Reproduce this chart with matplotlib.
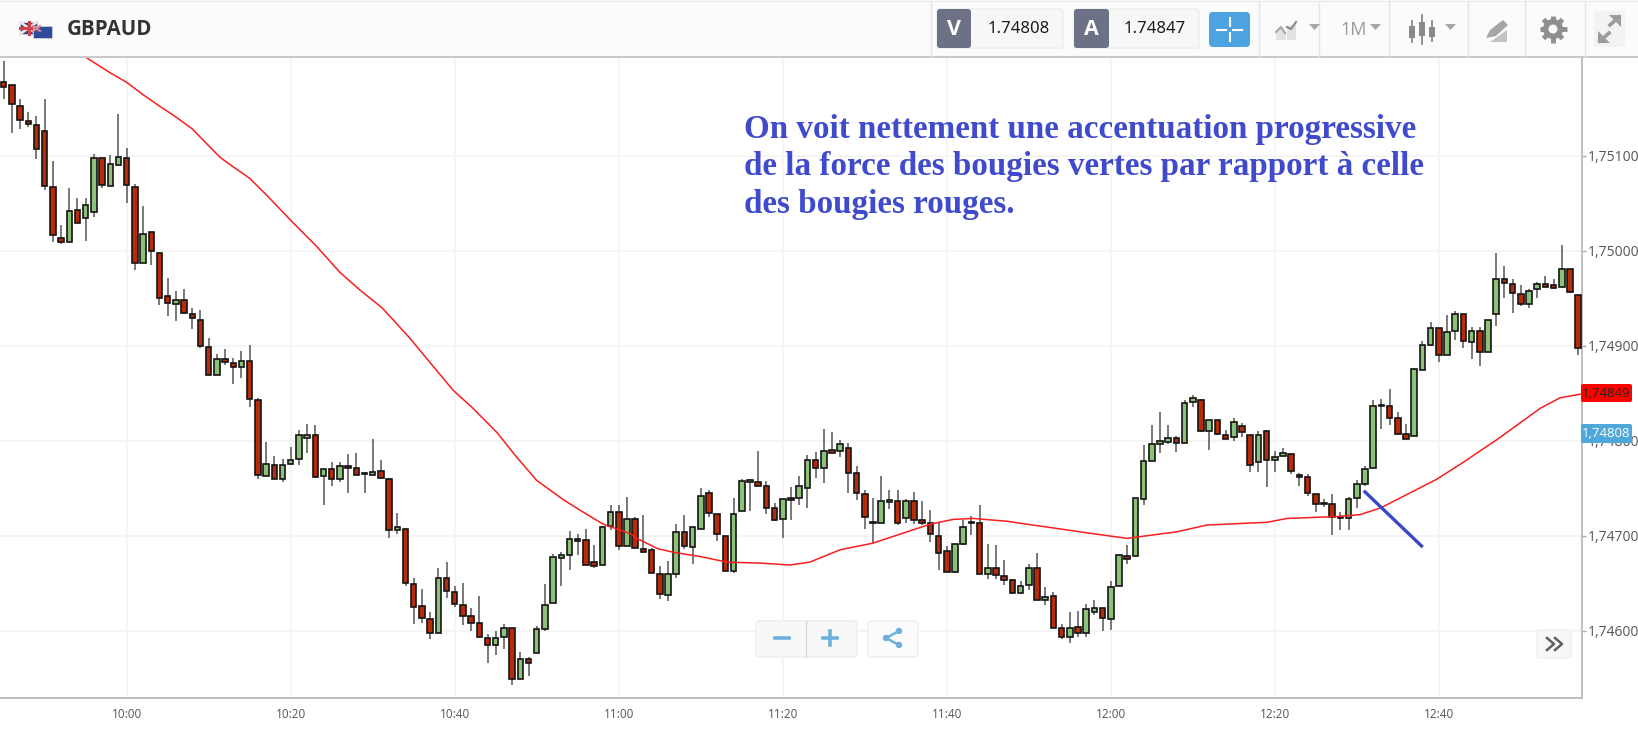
#! /usr/bin/python3

import numpy as np
from matplotlib import pyplot as plt
from matplotlib.patches import FancyBboxPatch, Rectangle, Polygon, Circle

plt.rcParams["font.family"] = ["Open Sans", "DejaVu Sans"]

# one candle per minute, minutes counted from 10:00
first_minute = -15

# prices are given in 1e-5 above 1.00000, 75100 means 1.75100
opens = [75177, 75174, 75152, 75136, 75132, 75126, 75067, 75013, 75009, 75043, 75034, 75041, 75097, 75068, 75090,
         75097, 75067, 74987, 75019, 74997, 74952, 74944, 74948, 74933, 74927, 74898, 74869, 74886, 74882, 74877,
         74884, 74843, 74763, 74774, 74760, 74775, 74781, 74803, 74806, 74763, 74770, 74759, 74773, 74771, 74765,
         74764, 74768, 74760, 74706, 74707, 74649, 74626, 74612, 74597, 74655, 74641, 74627, 74615, 74608, 74592,
         74585, 74593, 74603, 74549, 74570, 74576, 74602, 74629, 74676, 74680, 74696, 74695, 74672, 74669, 74710,
         74725, 74689, 74717, 74686, 74685, 74660, 74637, 74659, 74704, 74688, 74707, 74745, 74723, 74700, 74663,
         74726, 74756, 74756, 74752, 74729, 74717, 74739, 74739, 74750, 74780, 74771, 74790, 74789, 74792, 74766,
         74744, 74713, 74713, 74735, 74736, 74718, 74736, 74716, 74713, 74700, 74684, 74662, 74691, 74713, 74713,
         74660, 74666, 74657, 74653, 74639, 74648, 74666, 74632, 74636, 74603, 74593, 74604, 74597, 74619, 74624,
         74612, 74647, 74678, 74678, 74738, 74778, 74796, 74798, 74803, 74797, 74841, 74843, 74810, 74822, 74806,
         74804, 74815, 74806, 74777, 74810, 74780, 74784, 74786, 74764, 74762, 74744, 74733, 74733, 74718, 74718,
         74739, 74754, 74771, 74836, 74836, 74824, 74807, 74805, 74874, 74901, 74918, 74890, 74915, 74933, 74904,
         74915, 74893, 74933, 74970, 74965, 74954, 74944, 74959, 74965, 74964, 74962, 74981, 74953]
highs = [75199, 75174, 75159, 75146, 75142, 75160, 75094, 75027, 75066, 75055, 75055, 75102, 75097, 75101, 75144,
         75108, 75070, 75047, 75020, 74997, 74971, 74957, 74959, 74939, 74937, 74908, 74891, 74896, 74887, 74894,
         74901, 74845, 74798, 74784, 74781, 74793, 74811, 74817, 74816, 74770, 74777, 74777, 74786, 74787, 74767,
         74802, 74779, 74761, 74724, 74708, 74655, 74644, 74620, 74666, 74672, 74647, 74650, 74624, 74636, 74596,
         74600, 74607, 74603, 74577, 74572, 74605, 74649, 74681, 74683, 74705, 74702, 74707, 74690, 74710, 74732,
         74732, 74741, 74719, 74722, 74687, 74668, 74673, 74712, 74722, 74709, 74750, 74748, 74723, 74700, 74740,
         74760, 74760, 74789, 74757, 74734, 74738, 74751, 74763, 74785, 74788, 74812, 74809, 74801, 74797, 74773,
         74748, 74740, 74763, 74748, 74748, 74738, 74746, 74736, 74727, 74713, 74689, 74691, 74716, 74721, 74732,
         74691, 74690, 74674, 74654, 74652, 74670, 74682, 74646, 74641, 74607, 74619, 74621, 74628, 74632, 74624,
         74652, 74680, 74690, 74739, 74795, 74816, 74830, 74816, 74805, 74843, 74848, 74844, 74822, 74822, 74811,
         74824, 74818, 74806, 74810, 74810, 74789, 74792, 74787, 74766, 74765, 74744, 74738, 74744, 74725, 74741,
         74758, 74773, 74843, 74844, 74854, 74830, 74817, 74876, 74905, 74925, 74918, 74932, 74936, 74933, 74919,
         74919, 74927, 74997, 74984, 74970, 74964, 74960, 74967, 74973, 74970, 75006, 74981, 74953]
lows = [75160, 75124, 75128, 75130, 75096, 75064, 75009, 75007, 75009, 75029, 75010, 75035, 75066, 75068, 75089,
        75050, 74979, 74987, 74985, 74943, 74931, 74926, 74933, 74917, 74897, 74869, 74869, 74880, 74860, 74866,
        74835, 74760, 74763, 74759, 74756, 74774, 74774, 74787, 74761, 74732, 74752, 74756, 74745, 74764, 74745,
        74764, 74759, 74697, 74702, 74647, 74607, 74608, 74591, 74597, 74634, 74625, 74606, 74600, 74592, 74566,
        74574, 74581, 74543, 74549, 74552, 74576, 74599, 74629, 74647, 74664, 74680, 74669, 74666, 74669, 74706,
        74685, 74689, 74687, 74682, 74661, 74633, 74631, 74655, 74686, 74670, 74707, 74719, 74694, 74663, 74661,
        74726, 74726, 74752, 74723, 74715, 74697, 74716, 74732, 74729, 74761, 74755, 74787, 74783, 74745, 74737,
        74707, 74692, 74713, 74728, 74711, 74713, 74712, 74711, 74693, 74664, 74662, 74661, 74690, 74701, 74659,
        74654, 74654, 74648, 74638, 74638, 74643, 74632, 74627, 74603, 74591, 74587, 74593, 74593, 74616, 74599,
        74601, 74647, 74670, 74678, 74732, 74778, 74787, 74796, 74788, 74797, 74835, 74809, 74790, 74806, 74802,
        74799, 74804, 74767, 74767, 74751, 74767, 74784, 74765, 74752, 74742, 74725, 74730, 74701, 74706, 74706,
        74729, 74752, 74771, 74812, 74816, 74806, 74802, 74805, 74874, 74899, 74883, 74890, 74906, 74897, 74886,
        74878, 74893, 74921, 74950, 74934, 74942, 74939, 74950, 74962, 74960, 74962, 74955, 74890]
closes = [75172, 75154, 75137, 75133, 75107, 75068, 75016, 75009, 75042, 75029, 75048, 75097, 75069, 75091, 75098,
          75069, 74987, 75017, 74999, 74950, 74945, 74948, 74934, 74929, 74899, 74869, 74886, 74883, 74877, 74884,
          74844, 74764, 74775, 74759, 74774, 74779, 74806, 74806, 74762, 74770, 74760, 74773, 74771, 74764, 74766,
          74767, 74761, 74706, 74709, 74650, 74625, 74613, 74597, 74655, 74642, 74628, 74615, 74608, 74593, 74585,
          74592, 74603, 74549, 74570, 74566, 74602, 74627, 74677, 74679, 74696, 74694, 74669, 74668, 74709, 74725,
          74689, 74717, 74687, 74683, 74661, 74638, 74659, 74704, 74689, 74709, 74742, 74724, 74702, 74663, 74723,
          74757, 74758, 74752, 74729, 74716, 74738, 74737, 74752, 74779, 74771, 74789, 74787, 74796, 74766, 74745,
          74720, 74714, 74736, 74737, 74713, 74736, 74716, 74713, 74702, 74682, 74662, 74691, 74709, 74714, 74659,
          74666, 74658, 74653, 74639, 74647, 74666, 74632, 74635, 74603, 74593, 74603, 74597, 74623, 74624, 74613,
          74646, 74679, 74675, 74739, 74778, 74796, 74799, 74803, 74797, 74840, 74845, 74810, 74822, 74807, 74802,
          74819, 74809, 74774, 74806, 74780, 74783, 74787, 74768, 74762, 74745, 74733, 74733, 74720, 74720, 74738,
          74754, 74770, 74836, 74837, 74824, 74807, 74802, 74875, 74901, 74918, 74890, 74914, 74933, 74905, 74915,
          74893, 74927, 74970, 74966, 74955, 74944, 74957, 74965, 74962, 74961, 74981, 74956, 74897]

# moving average, read at irregular minutes
ma_minutes = [-5.1, -2, 0, 2, 4, 6.1, 8, 9.8, 11.4, 13, 15, 17.1, 20.2, 23.2, 26, 28.5, 31.1, 32.5, 34.5, 37, 39.8,
              42.1, 45.2, 47.6, 50, 53.2, 55.6, 58.1, 61.4, 62.2, 64.8, 66.9, 69.9, 73.2, 77.2, 80.9, 83.3, 87, 91,
              95.9, 98, 100.8, 103.2, 107.4, 108.9, 113.8, 117.8, 122, 128.1, 131.7, 139.1, 141.5, 147.6, 150.4,
              152.9, 159.7, 162.8, 167.1, 172.4, 174.8, 177.4]
ma_values = [75204, 75187, 75177, 75164, 75152, 75140, 75128, 75112, 75098, 75088, 75076, 75058, 75030, 75004, 74977,
             74958, 74940, 74927, 74908, 74882, 74853, 74835, 74808, 74782, 74758, 74738, 74725, 74712, 74702, 74697,
             74686, 74682, 74678, 74672, 74671, 74669, 74672, 74685, 74692, 74706, 74712, 74717, 74718, 74715, 74713,
             74707, 74702, 74697, 74704, 74711, 74714, 74718, 74720, 74722, 74729, 74759, 74776, 74801, 74834, 74845,
             74849]

stroke_minutes = [151, 157.9]
stroke_values = [74746, 74689]

xtick_minutes = [0, 20, 40, 60, 80, 100, 120, 140, 160]
xtick_labels = ["10:00", "10:20", "10:40", "11:00", "11:20", "11:40", "12:00", "12:20", "12:40"]
ytick_values = [74600, 74700, 74800, 74900, 75000, 75100]
ytick_labels = ["1,74600", "1,74700", "1,74800", "1,74900", "1,75000", "1,75100"]

symbol = "GBPAUD"
sell_price = "1.74808"
buy_price = "1.74847"
ma_last = "1,74849"
bid_last = "1,74808"
note_lines = ["On voit nettement une accentuation progressive",
              "de la force des bougies vertes par rapport à celle",
              "des bougies rouges."]

W, H = 1638, 729


def prices(vals):
    return 1.0 + np.asarray(vals, dtype=float) / 1e5


o, h, l, c = prices(opens), prices(highs), prices(lows), prices(closes)
minutes = first_minute + np.arange(len(o))

fig = plt.figure(figsize=(W / 100, H / 100), dpi=100, facecolor="white")

# price chart
ax = fig.add_axes([0, 1 - 698 / H, 1582 / W, (698 - 56.7) / H])
ax.set_xlim(-15.45, 177.47)
ax.set_ylim(1.74529, 1.75204)
ax.grid(True, color="#f4f4f4", linewidth=1.2)
ax.set_axisbelow(True)
ax.set_xticks(xtick_minutes, xtick_labels)
ax.set_yticks(prices(ytick_values), ytick_labels)
ax.yaxis.tick_right()
ax.tick_params(axis="x", length=0, pad=7.5, labelsize=8.5, labelcolor="#555555")
ax.tick_params(axis="y", length=3, width=1, color="#aaaaaa", pad=1.5, labelsize=10, labelcolor="#555555")
for side in ("top", "left"):
    ax.spines[side].set_visible(False)
for side in ("right", "bottom"):
    ax.spines[side].set_color("#b4b4b4")
    ax.spines[side].set_linewidth(1.2)

ax.vlines(minutes, l, h, color="#555555", linewidth=1.1, zorder=2)
up = c >= o
body_low = np.minimum(o, c)
body_h = np.maximum(np.abs(c - o), 0.00001)
ax.bar(minutes[up], body_h[up], bottom=body_low[up], width=0.68, color="#8cc278",
       edgecolor="#141414", linewidth=1.2, zorder=3)
ax.bar(minutes[~up], body_h[~up], bottom=body_low[~up], width=0.68, color="#b92b06",
       edgecolor="#141414", linewidth=1.2, zorder=3)

ax.plot(ma_minutes, prices(ma_values), color="#fa1e1e", linewidth=1.1, zorder=4)
ax.plot(stroke_minutes, prices(stroke_values), color="#3a48c8", linewidth=2.4, zorder=5)

# everything around the chart is placed in pixels on a transparent overlay
ui = fig.add_axes([0, 0, 1, 1], facecolor="none")
ui.set_xlim(0, W)
ui.set_ylim(H, 0)
ui.axis("off")


def box(x0, y0, x1, y1, color, edge="none", r=3, z=6, lw=1):
    ui.add_patch(FancyBboxPatch((x0 + r, y0 + r), x1 - x0 - 2 * r, y1 - y0 - 2 * r,
                                boxstyle="round,pad=%g,rounding_size=%g" % (r, r),
                                facecolor=color, edgecolor=edge, linewidth=lw, zorder=z))


for i, line in enumerate(note_lines):
    ui.text(744, 129 + i * 37.5, line, family="Liberation Serif", fontweight="bold", fontsize=23.9,
            color="#3f4bcc", va="center", ha="left", zorder=8)

# header
ui.add_patch(Rectangle((0, 0), W, 56, facecolor="#fbfbfb", edgecolor="none", zorder=5))
ui.plot([0, W], [56.5, 56.5], color="#c9c9c9", linewidth=1.5, zorder=6)
ui.plot([0, W], [0.8, 0.8], color="#ececec", linewidth=1, zorder=6)
for xd in [931, 1259, 1319, 1389, 1468, 1525, 1585]:
    ui.plot([xd, xd], [1, 56], color="#e6e6e6", linewidth=1, zorder=6)

# flags
ui.add_patch(Rectangle((20, 22), 17, 12, facecolor="#39427f", edgecolor="#d8d8d8", linewidth=0.5, zorder=6))
ui.plot([20, 37], [22, 34], color="#f0e4e4", linewidth=2, zorder=6)
ui.plot([20, 37], [34, 22], color="#f0e4e4", linewidth=2, zorder=6)
ui.plot([28.5, 28.5], [22, 34], color="#d2404c", linewidth=2.2, zorder=6)
ui.plot([20, 37], [28, 28], color="#d2404c", linewidth=2.2, zorder=6)
ui.add_patch(Rectangle((33, 26), 19, 12, facecolor="#2f4a9e", edgecolor="#d8d8d8", linewidth=0.5, zorder=7))
ui.plot([33, 40], [26, 31], color="#e08a94", linewidth=1.5, zorder=7)
ui.plot([33, 40], [31, 26], color="#e08a94", linewidth=1.5, zorder=7)

ui.text(67, 29.5, symbol, family="Open Sans", fontweight="bold", fontsize=14.8, color="#333333",
        va="center", ha="left", zorder=7)

# sell / buy boxes
for x0, x1, x2, tag, val in [(937, 971, 1063, "V", sell_price), (1074, 1109, 1199, "A", buy_price)]:
    box(x0, 9, x2, 48, "#f7f7f7", edge="#ececec")
    box(x0, 9, x1, 48, "#6c7186")
    ui.text((x0 + x1) / 2, 29, tag, fontsize=15.5, fontweight="bold", color="white", ha="center", va="center", zorder=7)
    ui.text(x2 - 13, 29, val, family="Noto Sans", fontsize=12, color="#1a1a1a", ha="right", va="center", zorder=7)

# crosshair button
box(1209, 12, 1250, 47, "#4da2e0", r=4)
ui.plot([1217, 1226], [29.5, 29.5], color="white", linewidth=1.5, zorder=7)
ui.plot([1233, 1242], [29.5, 29.5], color="white", linewidth=1.5, zorder=7)
ui.plot([1229.5, 1229.5], [18, 26], color="white", linewidth=1.5, zorder=7)
ui.plot([1229.5, 1229.5], [33, 41], color="white", linewidth=1.5, zorder=7)

GREY = "#a6a6a6"
# chart type icon
ui.add_patch(Polygon([(1276, 40), (1276, 31), (1281, 27), (1286, 33), (1286, 40)], facecolor="#e2e2e2", zorder=6))
ui.add_patch(Polygon([(1287, 40), (1287, 26), (1296, 24), (1296, 40)], facecolor="#e2e2e2", zorder=6))
ui.plot([1276, 1281, 1285], [32, 27, 33], color=GREY, linewidth=1.5, zorder=7)
ui.plot([1287, 1291, 1296], [27, 29, 22], color="#888888", linewidth=1.5, zorder=7)
ui.add_patch(Polygon([(1309, 24), (1320, 24), (1314.5, 30)], facecolor=GREY, zorder=7))

ui.text(1354, 30, "1M", family="Open Sans", fontsize=13, color="#9a9a9a", ha="center", va="center", zorder=7)
ui.add_patch(Polygon([(1370, 24), (1381, 24), (1375.5, 30)], facecolor=GREY, zorder=7))

# candle icon
for xc, y0, y1, b0, b1 in [(1412, 21, 42, 26, 38), (1422, 15, 44, 22, 36), (1432, 21, 41, 27, 37)]:
    ui.plot([xc, xc], [y0, y1], color="#8a8a8a", linewidth=1.3, zorder=7)
    ui.add_patch(Rectangle((xc - 3, b0), 6, b1 - b0, facecolor="#8a8a8a", zorder=7))
ui.add_patch(Polygon([(1445, 24), (1456, 24), (1450.5, 30)], facecolor=GREY, zorder=7))

# pencil icon
ui.add_patch(Polygon([(1486, 38), (1490, 30), (1503, 20), (1508, 25), (1496, 36)], facecolor=GREY, zorder=7))
ui.add_patch(Polygon([(1490, 42), (1507, 42), (1507, 30)], facecolor="#c4c4c4", zorder=6))

# gear icon
for ang in np.arange(0, 180, 45):
    dx, dy = 13.5 * np.cos(np.radians(ang)), 13.5 * np.sin(np.radians(ang))
    ui.plot([1553 - dx, 1553 + dx], [29 - dy, 29 + dy], color="#8f8f8f", linewidth=3.5, solid_capstyle="butt", zorder=7)
ui.add_patch(Circle((1553, 29), 10, facecolor="#8f8f8f", zorder=7))
ui.add_patch(Circle((1553, 29), 4.5, facecolor="#fbfbfb", zorder=8))

# fullscreen icon
box(1594, 11, 1625, 47, "#f3f3f3", r=2)
ui.add_patch(Polygon([(1598, 43), (1598, 31), (1610, 43)], facecolor="#9c9c9c", zorder=7))
ui.add_patch(Polygon([(1609, 15), (1621, 15), (1621, 27)], facecolor="#9c9c9c", zorder=7))
ui.plot([1600, 1609], [41, 33], color="#9c9c9c", linewidth=2.6, zorder=7)
ui.plot([1610, 1619], [25, 17], color="#9c9c9c", linewidth=2.6, zorder=7)

# last value badges
box(1581, 384, 1632, 402, "#ff0000", r=2)
ui.text(1606.5, 393, ma_last, fontsize=9.5, color="#222222", ha="center", va="center", zorder=7)
box(1581, 424, 1632, 443, "#4fa8dc", r=2)
ui.text(1606.5, 433, bid_last, fontsize=9.5, color="white", ha="center", va="center", zorder=7)

# zoom controls
box(756, 621, 857, 657, "#f8f8f8", edge="#eeeeee")
ui.plot([805.5, 805.5], [621, 657], color="#d8d8d8", linewidth=1, zorder=7)
ui.plot([775, 789], [638, 638], color="#6db0dc", linewidth=2.6, zorder=7)
ui.plot([823, 837], [638, 638], color="#6db0dc", linewidth=2.6, zorder=7)
ui.plot([830, 830], [631, 645], color="#6db0dc", linewidth=2.6, zorder=7)
box(868, 621, 918, 657, "#fbfbfb", edge="#eeeeee")
ui.plot([899, 886, 899], [631, 638, 645], color="#6db0dc", linewidth=1.8, zorder=7)
for xc, yc in [(899, 631), (886, 638), (899, 645)]:
    ui.add_patch(Circle((xc, yc), 3.2, facecolor="#6db0dc", zorder=8))

# scroll button
box(1537, 630, 1571, 658, "#f7f7f7", edge="#f0f0f0")
ui.plot([1547, 1554, 1547], [638, 644, 650], color="#606060", linewidth=1.8, zorder=7)
ui.plot([1555, 1562, 1555], [638, 644, 650], color="#606060", linewidth=1.8, zorder=7)

fig.savefig("out.png", dpi=100)
